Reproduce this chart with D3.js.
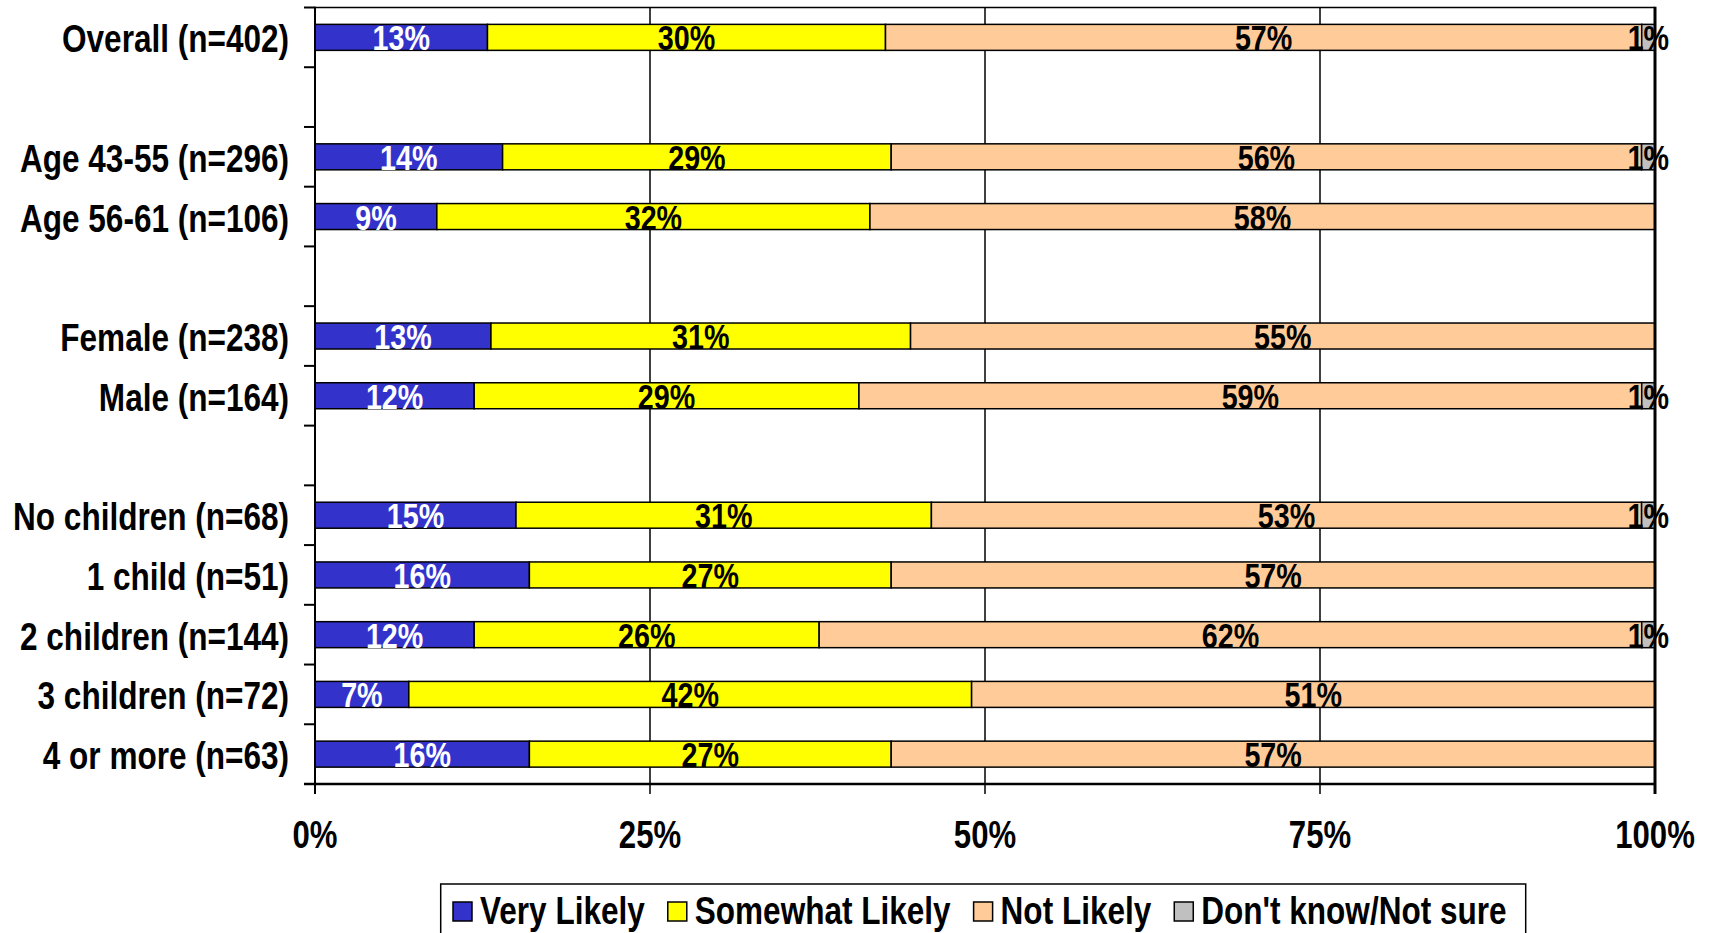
<!DOCTYPE html>
<html>
<head>
  <meta charset="utf-8">
  <title>Likelihood by group</title>
  <script src="https://cdn.jsdelivr.net/npm/d3@7"></script>
  <style>
    body { margin: 0; background: #fff; }
    text { font-family: "Liberation Sans", Arial, sans-serif; font-weight: bold; }
  </style>
</head>
<body>

<svg id="chart" width="1712" height="933"></svg>

<script>
    // rows, with blank names for the gaps between groups
    var categories = ["Overall (n=402)", "", "Age 43-55 (n=296)", "Age 56-61 (n=106)", " ",
        "Female (n=238)", "Male (n=164)", "  ", "No children (n=68)", "1 child (n=51)",
        "2 children (n=144)", "3 children (n=72)", "4 or more (n=63)"];

    var seriesNames = ["Very Likely", "Somewhat Likely", "Not Likely", "Don't know/Not sure"];
    var seriesColors = ["#3333CC", "#FFFF00", "#FFCC99", "#C0C0C0"];

    var veryLikely     = [13, null, 14, 9,  null, 13, 12, null, 15, 16, 12, 7,  16];
    var somewhatLikely = [30, null, 29, 32, null, 31, 29, null, 31, 27, 26, 42, 27];
    var notLikely      = [57, null, 56, 58, null, 55, 59, null, 53, 57, 62, 51, 57];
    var dontKnow       = [1,  null, 1,  0,  null, 0,  1,  null, 1,  0,  1,  0,  0];

    var xTicks = [0, 0.25, 0.5, 0.75, 1];

    var svg = d3.select("#chart"),
        margin = {top: 7.5, right: 57, bottom: 149, left: 315},
        width = +svg.attr("width"),
        height = +svg.attr("height");

    var x = d3.scaleLinear()
        .domain([0, 1])
        .range([margin.left, width - margin.right]);

    var y = d3.scaleBand()
        .domain(categories)
        .range([margin.top, height - margin.bottom])
        .paddingInner(0.565)
        .paddingOuter(0.2825);

    // narrow bold look: squeeze the glyphs horizontally
    function place(px, py, s) {
        return "translate(" + px + "," + py + ") scale(" + (s || 0.82) + ",1)";
    }

    // 100% stacked rows built from the series arrays
    var rows = categories.map(function (c, i) {
        var vals = [veryLikely[i], somewhatLikely[i], notLikely[i], dontKnow[i]];
        return {cat: c, vals: vals};
    }).filter(d => d.vals[0] !== null);

    var segs = [];
    rows.forEach(function (r) {
        var total = d3.sum(r.vals), acc = 0;
        r.vals.forEach(function (v, k) {
            segs.push({cat: r.cat, k: k, v: v, x0: acc / total, x1: (acc + v) / total});
            acc += v;
        });
    });

    var step = y.step();
    var bounds = d3.range(categories.length + 1).map(i => margin.top + i * step);
    var bottomY = bounds[bounds.length - 1];

    // gridlines at 25 / 50 / 75, running down into tick marks
    svg.append("g")
        .selectAll("line")
        .data(xTicks.slice(1, 4))
        .join("line")
        .attr("x1", d => x(d)).attr("x2", d => x(d))
        .attr("y1", margin.top).attr("y2", bottomY + 10)
        .attr("stroke", "#000")
        .attr("stroke-width", 1.5);

    // top border
    svg.append("line")
        .attr("x1", x(0)).attr("x2", x(1))
        .attr("y1", margin.top).attr("y2", margin.top)
        .attr("stroke", "#000").attr("stroke-width", 1.5);

    // bars
    svg.append("g")
        .selectAll("rect")
        .data(segs.filter(d => d.v > 0))
        .join("rect")
        .attr("x", d => x(d.x0))
        .attr("width", d => x(d.x1) - x(d.x0))
        .attr("y", d => y(d.cat))
        .attr("height", y.bandwidth())
        .attr("fill", d => seriesColors[d.k])
        .attr("stroke", "#000")
        .attr("stroke-width", 1.5);

    // right border (thicker)
    svg.append("line")
        .attr("x1", x(1)).attr("x2", x(1))
        .attr("y1", margin.top - 0.75).attr("y2", bottomY + 10)
        .attr("stroke", "#000").attr("stroke-width", 3);

    // y axis line and ticks at slot boundaries
    svg.append("line")
        .attr("x1", x(0)).attr("x2", x(0))
        .attr("y1", margin.top - 0.75).attr("y2", bottomY + 10)
        .attr("stroke", "#000").attr("stroke-width", 2);

    svg.append("g")
        .selectAll("line")
        .data(bounds)
        .join("line")
        .attr("x1", x(0) - 11).attr("x2", x(0))
        .attr("y1", d => d).attr("y2", d => d)
        .attr("stroke", "#000").attr("stroke-width", 2);

    // x axis line
    svg.append("line")
        .attr("x1", x(0) - 11).attr("x2", x(1))
        .attr("y1", bottomY).attr("y2", bottomY)
        .attr("stroke", "#000").attr("stroke-width", 2.5);

    // x tick labels
    svg.append("g")
        .selectAll("text")
        .data(xTicks)
        .join("text")
        .attr("transform", d => place(x(d), 848))
        .attr("text-anchor", "middle")
        .style("font-size", "38px")
        .text(d3.format(".0%"));

    // category labels
    svg.append("g")
        .selectAll("text")
        .data(rows)
        .join("text")
        .attr("transform", d => place(289, y(d.cat) + y.bandwidth() / 2 + 15, 0.83))
        .attr("text-anchor", "end")
        .style("font-size", "38px")
        .text(d => d.cat);

    // value labels
    svg.append("g")
        .selectAll("text")
        .data(segs.filter(d => d.v > 0))
        .join("text")
        .attr("transform", d => place((x(d.x0) + x(d.x1)) / 2, y(d.cat) + y.bandwidth() / 2 + 13))
        .attr("text-anchor", "middle")
        .attr("fill", d => d.k === 0 ? "#fff" : "#000")
        .style("font-size", "35px")
        .text(d => d.v + "%");

    // legend
    var legend = svg.append("g");
    legend.append("rect")
        .attr("x", 440.7).attr("y", 884)
        .attr("width", 1525.7 - 440.7).attr("height", 60)
        .attr("fill", "#fff")
        .attr("stroke", "#000").attr("stroke-width", 1.5);

    var lx = 453;
    seriesNames.forEach(function (name, k) {
        legend.append("rect")
            .attr("x", lx).attr("y", 902)
            .attr("width", 19).attr("height", 19)
            .attr("fill", seriesColors[k])
            .attr("stroke", "#000").attr("stroke-width", 1.5);
        var t = legend.append("text")
            .attr("transform", place(lx + 27, 924, 0.83))
            .style("font-size", "38px")
            .text(name);
        lx += 27 + t.node().getComputedTextLength() * 0.83 + 23;
    });
</script>
</body>
</html>
